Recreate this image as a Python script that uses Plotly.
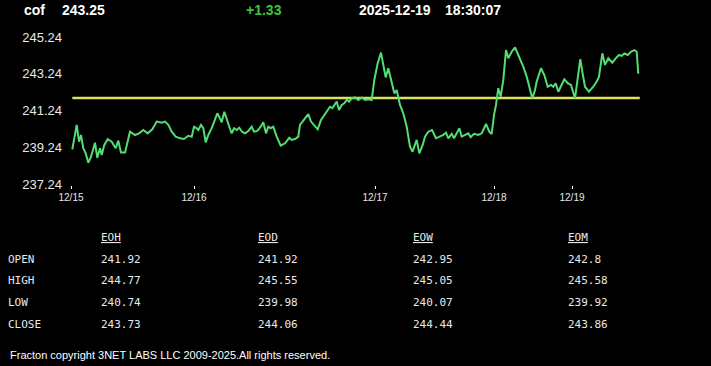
import plotly.graph_objects as go

# ---- data ----
symbol = "cof"
last_price = "243.25"
change = "+1.33"
stamp_date = "2025-12-19"
stamp_time = "18:30:07"
open_price = 241.92

bar_pos = [0.3, 4.7, 7, 9, 11.3, 13.7, 16.3, 19, 23, 25.3, 28, 29.7, 32.3, 35.7, 39.7, 43.7,
           46.3, 49, 53, 58, 63, 67, 71.3, 75.7, 80.3, 84.7, 89.7, 93, 96.3, 99.7, 103.7, 108,
           112, 116.3, 119.7, 122, 124.7, 126.3, 129, 131.3, 133.7, 136.3, 139.7, 143, 145.3,
           148, 149.7, 152.3, 154.7, 157.3, 159.7, 162, 164.7, 167.3, 170, 173, 176.3, 179.7,
           182, 185.3, 188.7, 191.3, 194, 196.3, 198.7, 201.3, 204.7, 208.7, 213, 217.3, 219.7,
           223, 226.3, 228, 231.3, 236.3, 239, 241.3, 245.7, 249, 253.7, 258, 260.3, 262.3,
           264.7, 267, 269.7, 272.3, 274.7, 277, 279.7, 283, 286.3, 289.7, 293, 296.3, 299.7,
           302.3, 305.7, 309, 311.3, 313.7, 316.3, 319.7, 322.3, 324.7, 328, 331.3, 334.7,
           338, 340.5, 344.7, 347.3, 350.7, 353, 356.3, 360, 364, 368, 371.3, 374, 376.3,
           379.7, 382, 384.7, 387.3, 389.7, 393, 396.3, 398.7, 402, 406.3, 409.7, 414, 417.3,
           419.7, 422, 424, 426.3, 428.7, 431.3, 434, 436.3, 439.7, 443, 446.3, 451.3, 454.7,
           458, 460.3, 463, 464.7, 469, 472.3, 475.7, 479, 481.3, 483.7, 486.3, 489, 492.3,
           495.7, 499, 503, 505.7, 508.3, 510.3, 513, 517, 521.3, 524.7, 527, 530.3, 533,
           536.3, 540.3, 543.7, 547, 549.7, 552.3, 555.7, 559, 562.3, 564.7, 566.3]

price = [239.13, 240.46, 239.55, 239.91, 239.19, 238.91, 238.40, 238.73, 239.49, 238.67,
         239.19, 238.82, 239.37, 239.68, 239.55, 239.19, 239.60, 238.95, 238.95, 240.09,
         239.91, 240.00, 240.18, 240.00, 240.22, 240.64, 240.58, 240.64, 240.46, 240.09,
         239.82, 239.73, 239.69, 239.87, 239.82, 240.36, 240.28, 240.18, 240.46, 240.28,
         239.51, 239.91, 240.28, 240.82, 241.09, 240.82, 240.60, 241.18, 240.73, 240.36,
         240.00, 240.28, 240.18, 240.31, 240.09, 240.00, 240.13, 240.36, 240.09, 240.13,
         240.36, 240.60, 240.00, 240.36, 240.28, 240.36, 239.82, 239.33, 239.46, 239.76,
         239.64, 239.69, 239.82, 240.46, 240.69, 241.05, 240.64, 240.51, 240.22, 240.73,
         241.13, 241.45, 241.37, 241.55, 241.73, 241.27, 241.55, 241.64, 241.82, 241.73,
         241.91, 241.96, 241.82, 241.96, 241.82, 241.86, 241.82, 242.91, 243.82, 244.40,
         243.63, 243.05, 243.55, 242.73, 242.18, 242.36, 241.55, 241.09, 240.36, 239.27,
         239.00, 239.64, 238.91, 239.37, 239.82, 240.09, 240.18, 239.73, 239.82, 239.91,
         240.04, 239.73, 239.97, 239.73, 240.00, 240.28, 239.82, 239.91, 240.00, 239.79,
         239.97, 239.91, 240.00, 240.51, 240.09, 239.97, 241.00, 241.55, 242.46, 242.00,
         242.91, 244.54, 244.09, 244.45, 244.69, 244.27, 243.63, 243.09, 242.46, 241.91,
         242.36, 242.82, 243.55, 243.18, 242.54, 242.64, 242.54, 242.73, 242.27, 242.54,
         242.95, 242.73, 242.64, 241.91, 243.00, 244.04, 243.36, 242.54, 242.27, 242.54,
         242.82, 243.09, 244.36, 243.73, 244.09, 243.85, 244.09, 244.27, 244.22, 244.36,
         244.27, 244.45, 244.54, 244.45, 243.25]

date_tick_pos = [-1, 122, 303, 422, 500]
date_tick_text = ["12/15", "12/16", "12/17", "12/18", "12/19"]
price_ticks = [237.24, 239.24, 241.24, 243.24, 245.24]

table_cols = ["EOH", "EOD", "EOW", "EOM"]
table_rows = ["OPEN", "HIGH", "LOW", "CLOSE"]
table_vals = {
    "EOH": ["241.92", "244.77", "240.74", "243.73"],
    "EOD": ["241.92", "245.55", "239.98", "244.06"],
    "EOW": ["242.95", "245.05", "240.07", "244.44"],
    "EOM": ["242.8", "245.58", "239.92", "243.86"],
}
footer = "Fracton copyright 3NET LABS LLC 2009-2025.All rights reserved."

# ---- layout geometry (pixels) ----
W, H = 711, 366
PL, PR, PT, PB = 71, 642, 30, 185


def px(x, y):
    return (x - PL) / (PR - PL), (PB - y) / (PB - PT)


fig = go.Figure()
fig.add_trace(go.Scatter(x=[bar_pos[0], bar_pos[-1] + 1.5], y=[open_price, open_price],
                         mode="lines", line=dict(color="#d9e25c", width=2.5),
                         hoverinfo="skip", showlegend=False))
fig.add_trace(go.Scatter(x=bar_pos, y=price, mode="lines",
                         line=dict(color="#52de72", width=2),
                         showlegend=False))

ann = []


def text(x, y, s, size, color="#ececec", family="Liberation Sans, Arial", bold=False):
    ax, ay = px(x, y)
    ann.append(dict(x=ax, y=ay, xref="paper", yref="paper", text=f"<b>{s}</b>" if bold else s,
                    showarrow=False, xanchor="left", yanchor="middle",
                    font=dict(size=size, color=color, family=family)))


text(22, 10, symbol, 14, "#ffffff", bold=True)
text(60, 10, last_price, 14, "#ffffff", bold=True)
text(244, 10, change, 14, "#3fc43f", bold=True)
text(357, 10, stamp_date, 14, "#ffffff", bold=True)
text(443, 10, stamp_time, 14, "#ffffff", bold=True)

mono = "DejaVu Sans Mono, monospace"
col_x = [99, 256, 411, 566]
row_y = [259, 280, 302, 324]
for cx, c in zip(col_x, table_cols):
    text(cx, 238, f"<u>{c}</u>", 11, "#e8e8e8", mono)
    for ry, v in zip(row_y, table_vals[c]):
        text(cx, ry, v, 11, "#e8e8e8", mono)
for ry, r in zip(row_y, table_rows):
    text(6, ry, r, 11, "#e8e8e8", mono)

text(8, 355, footer, 11, "#ffffff")

# y range chosen so that 245.24 sits at ~37px and 237.24 at ~184px
y_lo = 237.24 - (PB - 184) / 18.35
y_hi = 237.24 + (PB - PT) / 18.35 - (PB - 184) / 18.35

fig.update_layout(
    width=W, height=H,
    margin=dict(l=PL, r=W - PR, t=PT, b=H - PB, pad=0),
    paper_bgcolor="#000000", plot_bgcolor="#000000",
    annotations=ann,
    xaxis=dict(range=[-1, 570], tickvals=date_tick_pos, ticktext=date_tick_text,
               showgrid=False, zeroline=False, showline=False,
               ticks="outside", ticklen=3, tickcolor="#ffffff", tickwidth=1,
               tickfont=dict(size=10, color="#e8e8e8", family="Liberation Sans, Arial")),
    yaxis=dict(range=[y_lo, y_hi], tickvals=price_ticks,
               ticktext=[f"{v:.2f}" for v in price_ticks],
               showgrid=False, zeroline=False, showline=False, ticks="",
               ticklabelstandoff=8,
               tickfont=dict(size=13, color="#e8e8e8", family="Liberation Sans, Arial")),
    hovermode=False,
)

fig.write_html("out.html", config={"displayModeBar": False},
               post_script="document.body.style.margin='0';document.body.style.background='#000';"
                           "document.body.style.overflow='hidden';")
